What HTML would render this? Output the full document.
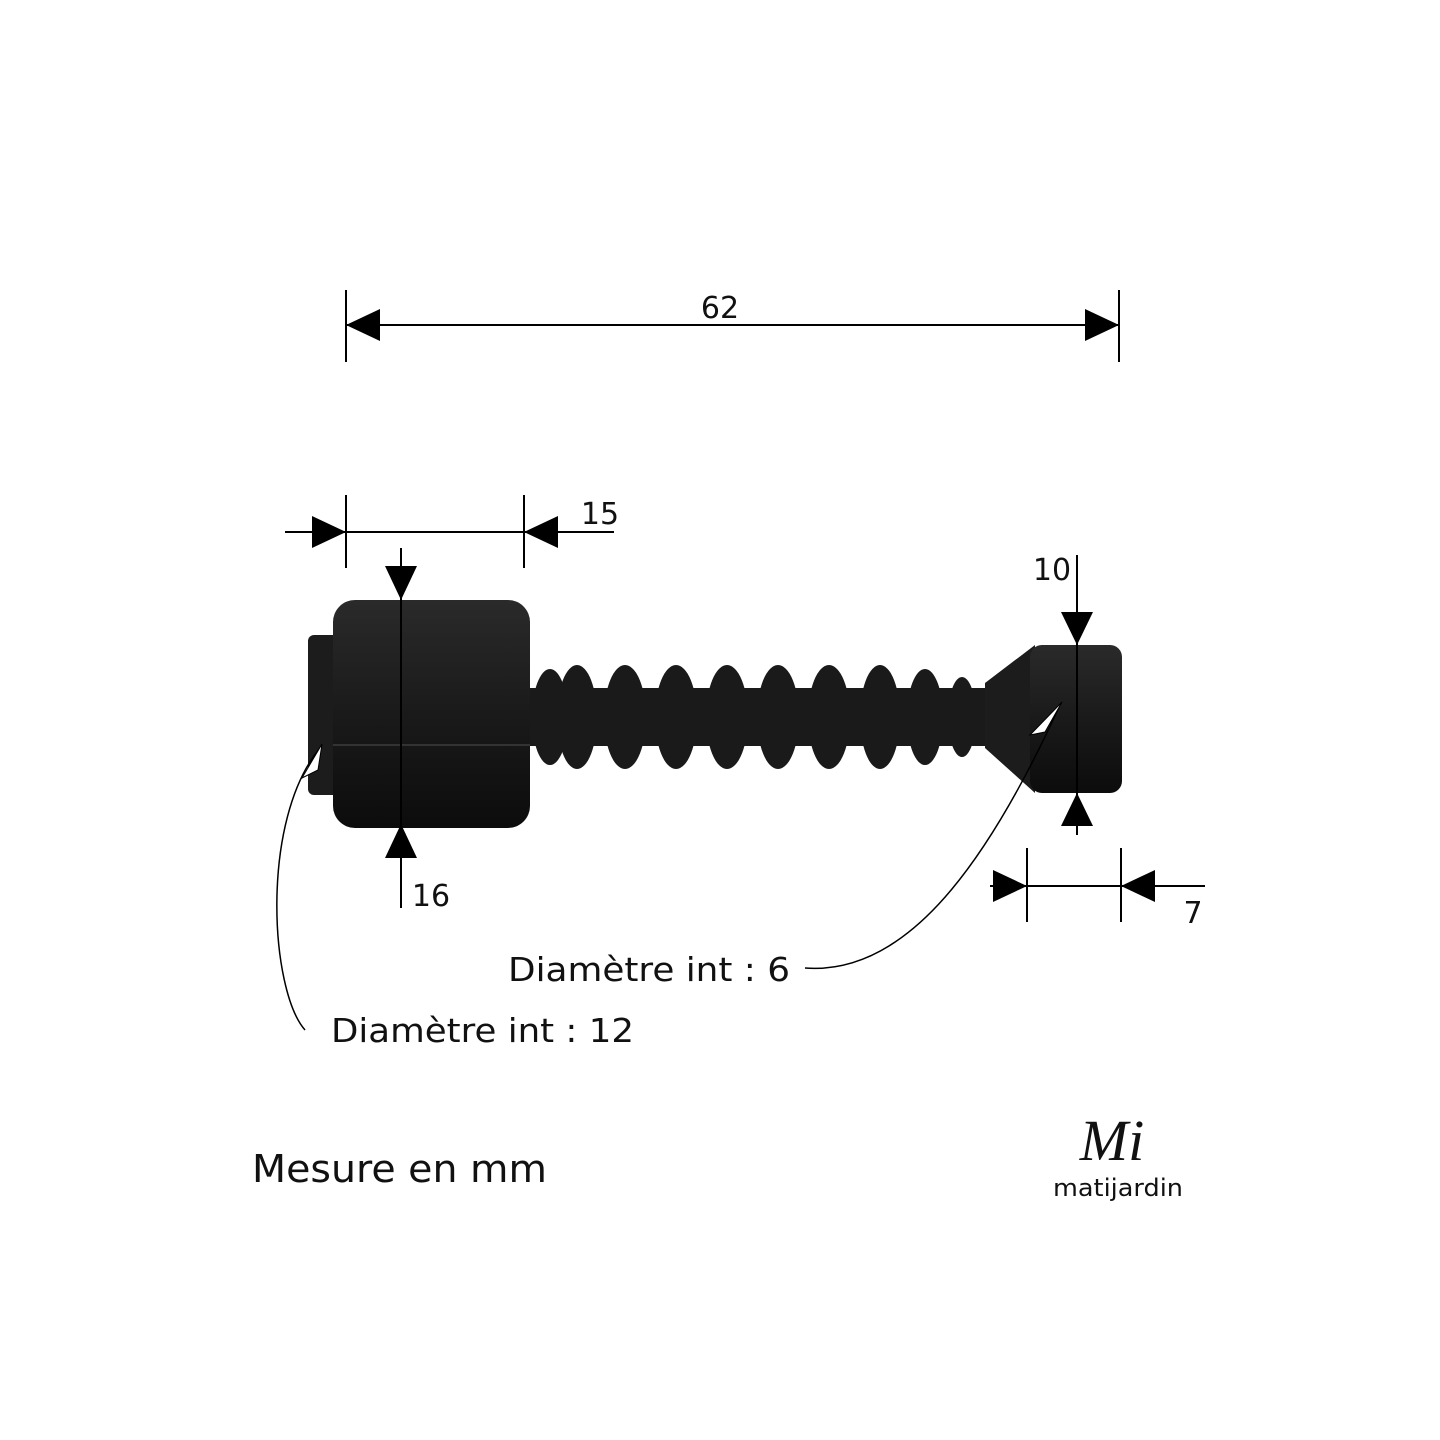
<!DOCTYPE html>
<html><head><meta charset="utf-8"><style>
html,body{margin:0;padding:0;background:#fff;}
svg{display:block;}
text{font-family:"DejaVu Sans","Liberation Sans",sans-serif;fill:#111;}
</style></head><body>
<svg width="1440" height="1440" viewBox="0 0 1440 1440" xmlns="http://www.w3.org/2000/svg">
<rect width="1440" height="1440" fill="#fff"/>
<defs>
<linearGradient id="g" x1="0" y1="0" x2="0" y2="1">
<stop offset="0" stop-color="#2a2a2a"/><stop offset="0.5" stop-color="#1a1a1a"/><stop offset="1" stop-color="#0c0c0c"/>
</linearGradient>
</defs>
<g stroke="#000" stroke-width="2" fill="#000">
<line x1="346" y1="290" x2="346" y2="362"/><line x1="1119" y1="290" x2="1119" y2="362"/>
<line x1="346" y1="325" x2="1119" y2="325"/>
<polygon points="346,325 380,309 380,341" stroke="none"/>
<polygon points="1119,325 1085,309 1085,341" stroke="none"/>
<line x1="346" y1="495" x2="346" y2="568"/><line x1="524" y1="495" x2="524" y2="568"/>
<line x1="285" y1="532" x2="614" y2="532"/>
<polygon points="346,532 312,516 312,548" stroke="none"/>
<polygon points="524,532 558,516 558,548" stroke="none"/>
<line x1="1027" y1="848" x2="1027" y2="922"/><line x1="1121" y1="848" x2="1121" y2="922"/>
<line x1="990" y1="886" x2="1205" y2="886"/>
<polygon points="1027,886 993,870 993,902" stroke="none"/>
<polygon points="1121,886 1155,870 1155,902" stroke="none"/>
</g>
<g>
<rect x="308" y="635" width="32" height="160" rx="6" fill="#1c1c1c"/>
<rect x="528" y="688" width="470" height="58" fill="#1a1a1a"/>
<g fill="#1a1a1a">
<ellipse cx="550" cy="717" rx="18" ry="48"/>
<ellipse cx="577" cy="717" rx="20" ry="52"/>
<ellipse cx="625" cy="717" rx="21" ry="52"/>
<ellipse cx="676" cy="717" rx="21" ry="52"/>
<ellipse cx="727" cy="717" rx="21" ry="52"/>
<ellipse cx="778" cy="717" rx="21" ry="52"/>
<ellipse cx="829" cy="717" rx="21" ry="52"/>
<ellipse cx="880" cy="717" rx="20" ry="52"/>
<ellipse cx="925" cy="717" rx="18" ry="48"/>
<ellipse cx="962" cy="717" rx="14" ry="40"/>
</g>
<polygon points="985,683 1035,645 1035,793 985,748" fill="#1c1c1c"/>
<rect x="1030" y="645" width="92" height="148" rx="12" fill="url(#g)"/>
<rect x="333" y="600" width="197" height="228" rx="22" fill="url(#g)"/>
<line x1="333" y1="745" x2="530" y2="745" stroke="#333" stroke-width="2"/>
</g>
<g stroke="#000" stroke-width="2" fill="#000">
<line x1="401" y1="548" x2="401" y2="908"/>
<polygon points="401,600 385,566 417,566" stroke="none"/>
<polygon points="401,824 385,858 417,858" stroke="none"/>
<line x1="1077" y1="555" x2="1077" y2="835"/>
<polygon points="1077,645 1061,612 1093,612" stroke="none"/>
<polygon points="1077,793 1061,826 1093,826" stroke="none"/>
</g>
<g fill="none" stroke="#000" stroke-width="1.5">
<path d="M305,1030 C270,990 260,820 320,748"/>
<path d="M805,968 C900,975 980,880 1060,705"/>
</g>
<polygon points="322,744 302,778 318,770" fill="#fff" stroke="#000" stroke-width="1"/>
<polygon points="1062,702 1030,735 1045,732" fill="#fff" stroke="#000" stroke-width="1"/>
<text x="720" y="318" font-size="30" text-anchor="middle">62</text>
<text x="600" y="524" font-size="30" text-anchor="middle">15</text>
<text x="431" y="906" font-size="30" text-anchor="middle">16</text>
<text x="1052" y="580" font-size="30" text-anchor="middle">10</text>
<text x="1193" y="923" font-size="30" text-anchor="middle">7</text>
<text x="508" y="981" font-size="33" textLength="282" lengthAdjust="spacingAndGlyphs">Diamètre int : 6</text>
<text x="331" y="1042" font-size="33" textLength="303" lengthAdjust="spacingAndGlyphs">Diamètre int : 12</text>
<text x="252" y="1182" font-size="38" textLength="295" lengthAdjust="spacingAndGlyphs">Mesure en mm</text>
<text x="1112" y="1160" font-size="58" font-style="italic" text-anchor="middle" style="font-family:'Liberation Serif',serif">Mi</text>
<text x="1053" y="1196" font-size="24" textLength="130" lengthAdjust="spacingAndGlyphs">matijardin</text>
</svg>
</body></html>
